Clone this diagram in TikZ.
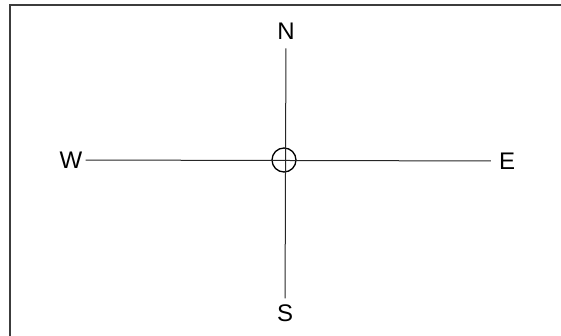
\documentclass[tikz,border=0pt]{standalone}
\usepackage{fontspec}
\setmainfont{Liberation Sans}
\usepackage{tikz}
\definecolor{framegray}{RGB}{60, 60, 60}

\begin{document}
\begin{tikzpicture}[
  x=1pt, y=-1pt,
  compass/.style={font=\fontsize{24}{28}\selectfont, inner sep=0pt},
  axis/.style={line width=1pt, black!85}
]
  \useasboundingbox (0,0) rectangle (561,336);
  % frame (only left and top edges show)
  \draw[line width=1.6pt, framegray] (10,336) -- (10,5) -- (561,5);

  % compass letters
  \node[compass] (north) at (286,31) {N};
  \node[compass] (south) at (285,313) {S};
  \node[compass] (west) at (71,160) {W};
  \node[compass] (east) at (507,161) {E};

  % centre
  \node[circle, draw, line width=1.3pt, minimum size=24pt, inner sep=0pt] (centre) at (284,160) {};

  % axes
  \draw[axis, shorten <=9pt, shorten >=6pt] (north) -- (south);
  \draw[axis, shorten <=3pt, shorten >=8pt] (west) -- (east);
\end{tikzpicture}
\end{document}
